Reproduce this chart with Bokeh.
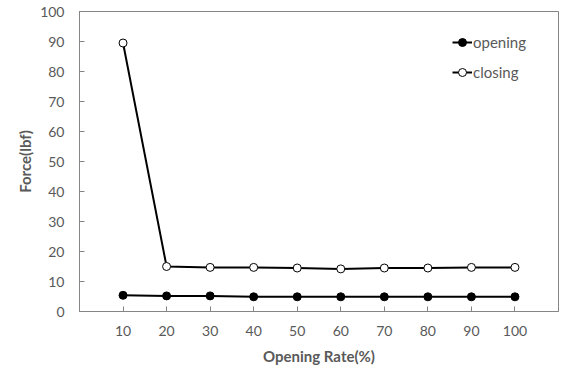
from bokeh.plotting import figure
from bokeh.models import FixedTicker, Range1d, Legend, LegendItem
from bokeh.embed import file_html
from bokeh.resources import INLINE

# Opening rate (%) and measured forces (lbf)
opening_rate = [10, 20, 30, 40, 50, 60, 70, 80, 90, 100]
force_opening = [5.4, 5.2, 5.2, 4.9, 4.9, 4.9, 4.9, 4.9, 4.9, 4.9]
force_closing = [89.5, 15.0, 14.7, 14.7, 14.5, 14.2, 14.5, 14.5, 14.7, 14.7]
x_ticks = [10, 20, 30, 40, 50, 60, 70, 80, 90, 100]
y_ticks = [0, 10, 20, 30, 40, 50, 60, 70, 80, 90, 100]

FONT = "Lato"
GRAY = "#595959"
AXIS_GRAY = "#858585"

p = figure(width=561, height=367, output_backend="svg", toolbar_location=None,
           x_range=Range1d(0, 110), y_range=Range1d(0, 100),
           min_border_left=79, min_border_right=3, min_border_top=11,
           min_border_bottom=55)

p.grid.visible = False
p.outline_line_color = AXIS_GRAY
p.outline_line_width = 1
p.background_fill_color = "white"
p.border_fill_color = "white"

for ax in (p.xaxis[0], p.yaxis[0]):
    ax.axis_line_color = AXIS_GRAY
    ax.major_tick_line_color = AXIS_GRAY
    ax.major_tick_in = 5
    ax.major_tick_out = 0
    ax.minor_tick_line_color = None
    ax.major_label_text_font = FONT
    ax.major_label_text_font_size = "14px"
    ax.major_label_text_color = GRAY
    ax.axis_label_text_font = FONT
    ax.axis_label_text_font_size = "15px"
    ax.axis_label_text_font_style = "bold"
    ax.axis_label_text_color = GRAY

p.xaxis.ticker = FixedTicker(ticks=x_ticks)
p.yaxis.ticker = FixedTicker(ticks=y_ticks)
p.xaxis.axis_label = "Opening Rate(%)"
p.yaxis.axis_label = "Force(lbf)"
p.xaxis.major_label_standoff = 14
p.xaxis.axis_label_standoff = 8
p.yaxis.major_label_standoff = 15
p.yaxis.axis_label_standoff = 3

l1 = p.line(opening_rate, force_opening, line_color="black", line_width=2)
s1 = p.scatter(opening_rate, force_opening, size=8, marker="circle",
               line_color="black", fill_color="black", line_width=1)
l2 = p.line(opening_rate, force_closing, line_color="black", line_width=2)
s2 = p.scatter(opening_rate, force_closing, size=8, marker="circle",
               line_color="black", fill_color="white", line_width=1)

legend = Legend(items=[LegendItem(label="opening", renderers=[l1, s1]),
                       LegendItem(label="closing", renderers=[l2, s2])],
                location=(373, 229), orientation="vertical")
legend.padding = 0
legend.margin = 0
legend.spacing = 10
legend.glyph_width = 20
legend.glyph_height = 20
legend.label_height = 20
legend.label_standoff = 1
legend.border_line_color = None
legend.background_fill_alpha = 0
legend.label_text_font = FONT
legend.label_text_font_size = "15px"
legend.label_text_color = GRAY
p.add_layout(legend)

open("out.html", "w").write(file_html(p, INLINE))
